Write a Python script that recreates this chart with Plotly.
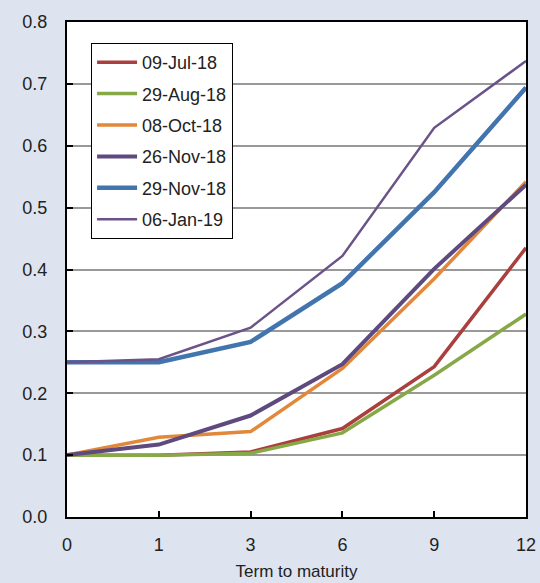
import plotly.graph_objects as go

terms = ["0", "1", "3", "6", "9", "12"]
series_names = ["09-Jul-18", "29-Aug-18", "08-Oct-18", "26-Nov-18", "29-Nov-18", "06-Jan-19"]
jul18 = [0.100, 0.100, 0.105, 0.143, 0.243, 0.435]
aug18 = [0.100, 0.100, 0.103, 0.136, 0.229, 0.328]
oct18 = [0.100, 0.129, 0.138, 0.240, 0.385, 0.542]
nov26 = [0.100, 0.117, 0.164, 0.247, 0.401, 0.537]
nov29 = [0.250, 0.250, 0.283, 0.378, 0.525, 0.694]
jan19 = [0.250, 0.255, 0.306, 0.422, 0.629, 0.737]

values = [jul18, aug18, oct18, nov26, nov29, jan19]
colors = ["#AA403E", "#87A846", "#E2883A", "#5E4A7E", "#4274AE", "#6A5388"]
widths = [3.5, 3.5, 3.5, 4, 4.5, 2.5]

xidx = list(range(len(terms)))
fig = go.Figure()
for i, (name, vals) in enumerate(zip(series_names, values)):
    fig.add_trace(go.Scatter(
        x=xidx, y=vals, name=name, mode="lines",
        line=dict(color=colors[i], width=widths[i]),
        legendgroup=name,
    ))

fig.update_layout(
    width=540, height=583,
    paper_bgcolor="#DDE4F0", plot_bgcolor="white",
    margin=dict(l=67, r=14, t=22, b=66, autoexpand=False),
    font=dict(family="Liberation Sans, Arial, sans-serif", size=18, color="#222222"),
    legend=dict(
        x=0.052, y=0.958, xanchor="left", yanchor="top",
        bgcolor="white", bordercolor="black", borderwidth=1.2,
        font=dict(size=18, color="#222222"),
        tracegroupgap=5,
        itemwidth=40,
        entrywidth=190, entrywidthmode="pixels",
    ),
    showlegend=True,
)
fig.update_xaxes(
    range=[0, 5], tickvals=xidx, ticktext=terms,
    showgrid=False, zeroline=False,
    showline=True, linecolor="black", linewidth=2, mirror=True,
    ticks="inside", ticklen=6, tickcolor="black", tickwidth=1.5,
    ticklabelstandoff=10,
    title=dict(text="Term to maturity", font=dict(size=17), standoff=12),
    tickfont=dict(size=18),
)
fig.update_yaxes(
    range=[0, 0.8], dtick=0.1, tickformat=".1f",
    showgrid=True, gridcolor="#999999", gridwidth=1.5, zeroline=False,
    showline=True, linecolor="black", linewidth=2, mirror=True,
    ticks="inside", ticklen=6, tickcolor="black", tickwidth=1.5,
    ticklabelstandoff=14,
    tickfont=dict(size=18),
)
fig.write_html("out.html", config={"displayModeBar": False},
               post_script="document.body.style.margin='0';document.body.style.overflow='hidden';")
